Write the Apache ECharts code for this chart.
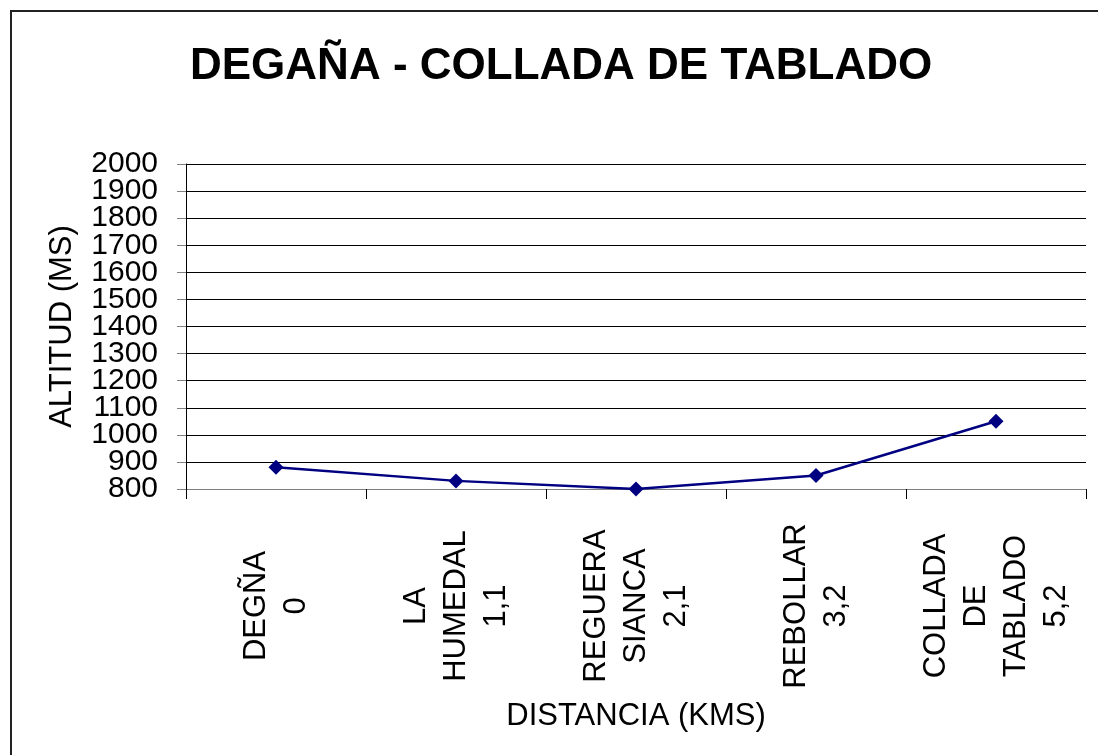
<!DOCTYPE html>
<html>
<head>
<meta charset="utf-8">
<script src="https://cdn.jsdelivr.net/npm/echarts@6/dist/echarts.min.js"></script>
<style>
html,body{margin:0;padding:0;background:#fff;}
#chart{width:1098px;height:755px;}
</style>
</head>
<body>
<div id="chart"></div>
<script>
const chartTitle = 'DEGAÑA - COLLADA DE TABLADO';
const categories = ['DEGÑA\n0', 'LA\nHUMEDAL\n1,1', 'REGUERA\nSIANCA\n2,1', 'REBOLLAR\n3,2', 'COLLADA\nDE\nTABLADO\n5,2'];
const altitudes = [880, 830, 800, 850, 1050];
const yAxisName = 'ALTITUD (MS)';
const xAxisName = 'DISTANCIA (KMS)';
const yMin = 800, yMax = 2000, yStep = 100;

const FONT = 'Arial, "Liberation Sans", sans-serif';
const yLabelBase = {margin: 28, fontFamily: FONT, fontSize: 30, color: '#000', hideOverlap: false};
const chart = echarts.init(document.getElementById('chart'), null, {renderer: 'canvas'});
chart.setOption({
  backgroundColor: '#ffffff',
  animation: false,
  graphic: [{
    type: 'rect', z: -1,
    shape: {x: 11, y: 11, width: 1200, height: 1000},
    style: {fill: 'none', stroke: '#222', lineWidth: 2}
  }],
  title: {
    text: chartTitle,
    left: 185, top: 40,
    textStyle: {fontFamily: FONT, fontSize: 44, fontWeight: 'bold', color: '#000'}
  },
  grid: {left: 186, right: 12, top: 164, bottom: 266, containLabel: false},
  xAxis: {
    type: 'category',
    data: categories,
    boundaryGap: true,
    name: xAxisName,
    nameLocation: 'middle',
    nameGap: 227,
    nameTextStyle: {fontFamily: FONT, fontSize: 31, color: '#000', verticalAlign: 'middle'},
    axisLine: {lineStyle: {color: '#808080', width: 1}},
    axisTick: {show: true, length: 10, lineStyle: {color: '#000', width: 1}},
    axisLabel: {
      rotate: 90, interval: 0, margin: 117,
      align: 'center', verticalAlign: 'middle',
      fontFamily: FONT, fontSize: 31, color: '#000', lineHeight: 40
    },
    splitLine: {show: false}
  },
  yAxis: [{
    type: 'value',
    min: yMin, max: yMax, interval: yStep,
    position: 'left',
    name: yAxisName,
    nameLocation: 'middle',
    nameGap: 124,
    nameTextStyle: {fontFamily: FONT, fontSize: 31, color: '#000', verticalAlign: 'middle'},
    axisLine: {show: true, lineStyle: {color: '#000', width: 1}},
    axisTick: {show: true, length: 9, lineStyle: {color: '#808080', width: 1}},
    axisLabel: Object.assign({}, yLabelBase, {
      formatter: function (v) { return (v === yMin || v === yMax) ? '' : String(v); }
    }),
    splitLine: {show: true, lineStyle: {color: '#000', width: 1}}
  }, {
    type: 'value',
    min: yMin, max: yMax, interval: yStep,
    position: 'left',
    axisLine: {show: false},
    axisTick: {show: false},
    splitLine: {show: false},
    axisLabel: Object.assign({}, yLabelBase, {
      showMinLabel: true, showMaxLabel: true,
      formatter: function (v) { return (v === yMin || v === yMax) ? String(v) : ''; }
    })
  }],
  series: [{
    type: 'line',
    yAxisIndex: 0,
    data: altitudes,
    symbol: 'diamond',
    symbolSize: 15,
    lineStyle: {color: '#000080', width: 2.5},
    itemStyle: {color: '#000080'},
    z: 5
  }]
});
</script>
</body>
</html>
